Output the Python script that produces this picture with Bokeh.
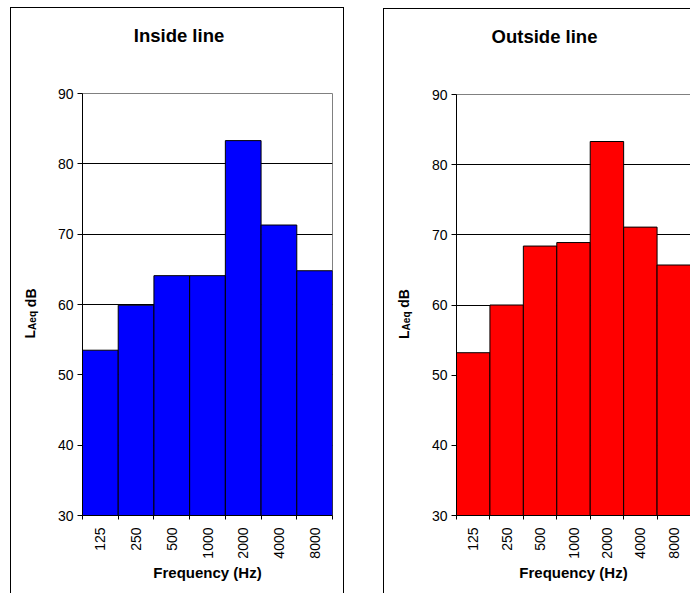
import math
from bokeh.plotting import figure
from bokeh.layouts import row
from bokeh.models import FixedTicker, Range1d, ColumnDataSource, LinearAxis
from bokeh.embed import file_html
from bokeh.resources import INLINE

# ---- data ----
freqs = ["125", "250", "500", "1000", "2000", "4000", "8000"]
inside_levels = [53.5, 59.9, 64.1, 64.1, 83.3, 71.3, 64.8]
outside_levels = [53.2, 60.0, 68.4, 68.9, 83.3, 71.1, 65.7]
y_ticks = [30, 40, 50, 60, 70, 80, 90]
titles = ["Inside line", "Outside line"]
x_label = "Frequency (Hz)"
y_label_parts = ["L", "Aeq", "dB"]

FONT = "Liberation Sans"
Y0, Y1 = 30, 90


def text_axis(text_map, size, standoff, orientation):
    """An axis used only to carry label text (titles)."""
    ticks = list(text_map.keys())
    ax = LinearAxis(ticker=FixedTicker(ticks=ticks, minor_ticks=[]))
    ax.major_label_overrides = text_map
    ax.major_label_orientation = orientation
    ax.axis_line_color = None
    ax.major_tick_line_color = None
    ax.minor_tick_line_color = None
    ax.major_tick_out = 0
    ax.major_tick_in = 0
    ax.major_label_standoff = standoff
    ax.major_label_text_font = FONT
    ax.major_label_text_font_size = size
    ax.major_label_text_font_style = "bold"
    ax.major_label_text_color = "black"
    return ax


def make_panel(title, levels, color, width, height, mb_left, mb_right, mb_top, mb_bottom,
               margin, border_styles, title_center_px):
    n = len(freqs)
    xs = list(range(1, n + 1))
    src = ColumnDataSource(dict(x=xs, top=levels))
    p = figure(width=width, height=height, x_range=Range1d(0.5, n + 0.5), y_range=Range1d(Y0, Y1),
               output_backend="svg", toolbar_location=None, title=None,
               min_border_left=mb_left, min_border_right=mb_right,
               min_border_top=mb_top, min_border_bottom=mb_bottom)
    p.margin = margin
    p.styles = border_styles
    p.background_fill_color = "white"
    p.border_fill_color = "white"
    p.outline_line_color = "#808080"
    p.outline_line_width = 1

    p.vbar(x="x", top="top", bottom=Y0, width=1.0, source=src,
           fill_color=color, line_color="black", line_width=1)

    # x axis: labels at bar centres, tick marks at bar boundaries
    xa = p.xaxis[0]
    xa.ticker = FixedTicker(ticks=xs, minor_ticks=[i + 0.5 for i in range(n + 1)])
    xa.major_label_overrides = {x: f for x, f in zip(xs, freqs)}
    xa.major_label_orientation = math.pi / 2
    xa.major_tick_line_color = None
    xa.minor_tick_line_color = "black"
    xa.minor_tick_in = 0
    xa.minor_tick_out = 4
    xa.axis_line_color = "black"
    xa.major_label_text_font = FONT
    xa.major_label_text_font_size = "14px"
    xa.major_label_text_color = "black"
    xa.major_label_standoff = 6
    xa.axis_label = x_label
    xa.axis_label_text_font = FONT
    xa.axis_label_text_font_size = "15px"
    xa.axis_label_text_font_style = "bold"
    xa.axis_label_text_color = "black"
    xa.axis_label_standoff = 2

    ya = p.yaxis[0]
    ya.ticker = FixedTicker(ticks=y_ticks, minor_ticks=[])
    ya.major_tick_in = 0
    ya.major_tick_out = 5
    ya.major_tick_line_color = "black"
    ya.axis_line_color = "black"
    ya.major_label_text_font = FONT
    ya.major_label_text_font_size = "14px"
    ya.major_label_text_color = "black"
    ya.major_label_standoff = 4

    p.xgrid.visible = False
    p.ygrid.ticker = FixedTicker(ticks=y_ticks, minor_ticks=[])
    p.ygrid.grid_line_color = "black"
    p.ygrid.grid_line_width = 1

    fw = width - mb_left - mb_right
    fh = height - mb_top - mb_bottom

    def dx(off):
        return 0.5 + off * n / fw

    def dy(off):
        return Y0 + off * (Y1 - Y0) / fh

    # title (horizontal text above the frame)
    p.add_layout(text_axis({dx(title_center_px): title}, "18.5px", 48, "horizontal"), "above")

    # y title  L_Aeq dB  (rotated; each piece ends at its tick)
    y_L, y_sub, y_dB = dy(185.6), dy(204.5), dy(227.0)
    p.add_layout(text_axis({y_sub: y_label_parts[1]}, "10px", 22, math.pi / 2), "left")
    p.add_layout(text_axis({y_L: y_label_parts[0], y_dB: y_label_parts[2]}, "14px", -12,
                           math.pi / 2), "left")
    return p


p1 = make_panel(titles[0], inside_levels, "#0000FF", 334, 586, 71, 13, 85, 79,
                (7, 0, 0, 10),
                {"border-top": "1px solid black", "border-left": "1px solid black",
                 "border-right": "1px solid black"},
                title_center_px=178.5 - 82)
p2 = make_panel(titles[1], outside_levels, "#FF0000", 307, 585, 72, 1, 85, 78,
                (8, 0, 0, 39),
                {"border-top": "1px solid black", "border-left": "1px solid black"},
                title_center_px=544 - 456)

layout = row(p1, p2)
open("out.html", "w").write(file_html(layout, INLINE))
